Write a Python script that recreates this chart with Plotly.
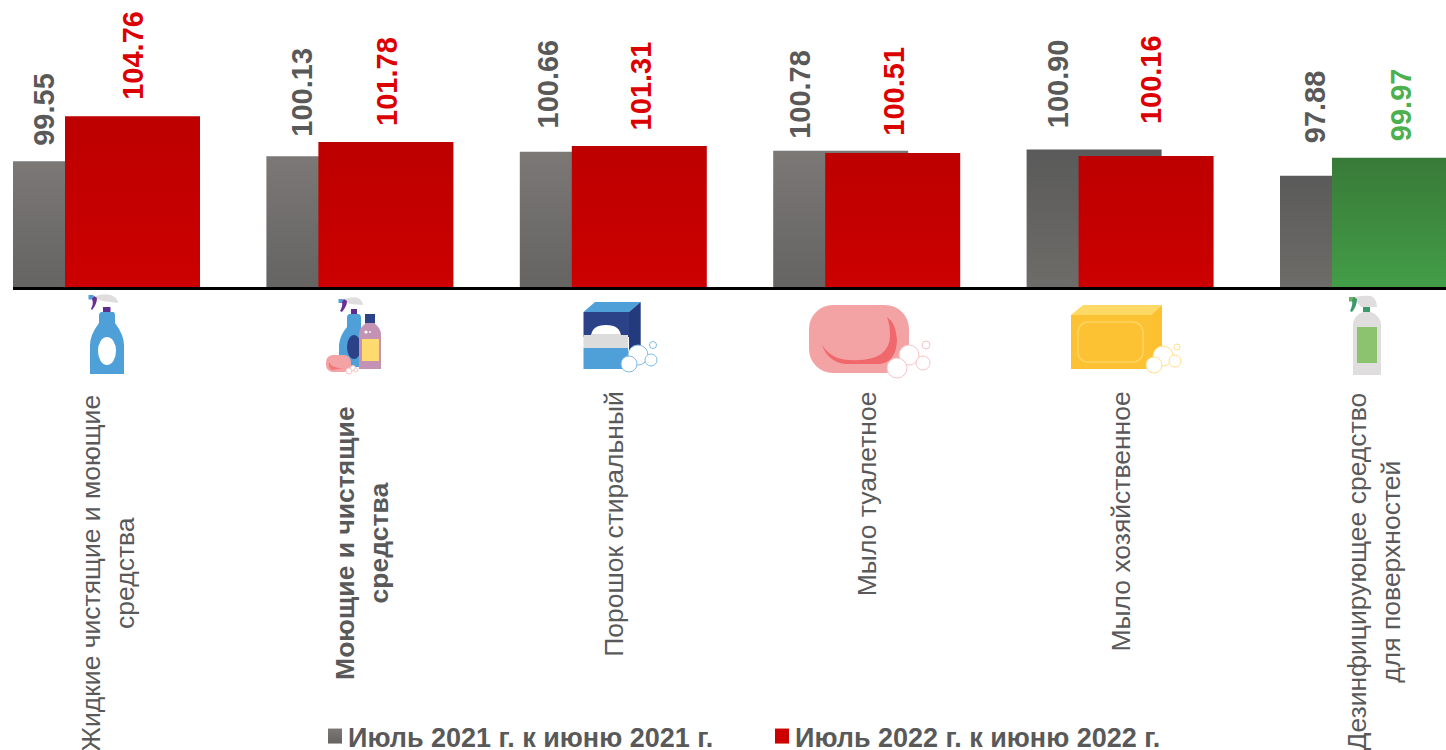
import base64
import plotly.graph_objects as go

categories = ["Жидкие чистящие и моющие<br>средства", "<b>Моющие и чистящие<br>средства</b>",
              "Порошок стиральный", "Мыло туалетное", "Мыло хозяйственное",
              "Дезинфицирующее средство<br>для поверхностей"]
values_2021 = [99.55, 100.13, 100.66, 100.78, 100.90, 97.88]
values_2022 = [104.76, 101.78, 101.31, 100.51, 100.16, 99.97]
series_names = ["Июль 2021 г. к июню 2021 г.", "Июль 2022 г. к июню 2022 г."]
label_2022_colors = ["#dd0000"] * 5 + ["#4cb04f"]
colors_2022 = ["#c40000"] * 5 + ["#3f8c41"]
colors_2021 = ["#706e6c"] * 4 + ["#636261"] * 2

W, H = 1446, 750
PL, PB = 13, 287          # plot left / plot bottom in page pixels
STEP, C0 = 253.4, 106.5   # category spacing and first-group centre in pixels
BAR = 135 / STEP
GRAY_OFF = -93.5 / STEP
RED_OFF = -41.5 / STEP
UNIT_PX = 8.64

# per-label nudges of the hand-placed chart labels (pixels)
gray_dx = [-62.5, -58, -65, -67, -62, -58.5]
gray_dy = [14, 19, 22, 11, 20, 31]
red_dx = [0, 0, 1, 1, 4, 1]
red_dy = [15, 15, 15, 16, 31, 15]
cat_cy = [573, 543, 524, 494, 522, 572]
cat_dx = [1, 2, 0.5, 0.5, 0.5, 0]


def svg(x0, y0, x1, y1, body):
    s = (f'<svg xmlns="http://www.w3.org/2000/svg" width="{(x1-x0)*3}" height="{(y1-y0)*3}" '
         f'viewBox="{x0} {y0} {x1-x0} {y1-y0}">{body}</svg>')
    uri = "data:image/svg+xml;base64," + base64.b64encode(s.encode()).decode()
    return dict(source=uri, xref="paper", yref="paper",
                x=(x0 - PL) / (W - PL), y=(PB - y0) / PB,
                sizex=(x1 - x0) / (W - PL), sizey=(y1 - y0) / PB,
                sizing="stretch", xanchor="left", yanchor="top", layer="above")


def bubbles(items, stroke):
    return "".join(f'<circle cx="{x}" cy="{y}" r="{r}" fill="#fff" stroke="{stroke}" stroke-width="1"/>'
                   for x, y, r in items)


icons = [
    svg(86, 292, 127, 376,
        '<path d="M93 297 Q103 293 111 295 Q118 298 118 303 L103 301 L100 300 Z" fill="#dfdddd"/>'
        '<rect x="88.5" y="295" width="5" height="4.5" fill="#4f9fd9"/>'
        '<path d="M94 296 L97 298 Q97 304 92 310 L91 309 Q94 303 92 299 Z" fill="#6a2f96"/>'
        '<rect x="103" y="307" width="7.5" height="5.5" fill="#5c2d91"/>'
        '<path d="M102 312 H113 Q115 312 115 316 V323 Q124 335 124 345 V374 H90 V345 Q90 335 99 323 V316 Q99 312 102 312 Z" fill="#4f9fd9"/>'
        '<ellipse cx="107" cy="351" rx="9" ry="14" fill="#fff"/>'),
    svg(324, 296, 384, 376,
        '<path d="M344 299 Q354 296 358 298 Q363 301 363 305 L350 304 L345 302 Z" fill="#dfdddd"/>'
        '<rect x="338.5" y="299" width="5" height="4" fill="#4f9fd9"/>'
        '<path d="M344 299 L347 301 Q347 306 342 312 L340 311 Q343 306 342 302 Z" fill="#6a2f96"/>'
        '<rect x="351" y="309" width="6" height="5" fill="#5c2d91"/>'
        '<path d="M350 314 H358 Q361 314 361 318 V367 H339 V345 Q340 335 347 327 V318 Q347 314 350 314 Z" fill="#4f9fd9"/>'
        '<ellipse cx="354" cy="347" rx="7" ry="12" fill="#2b4289"/>'
        '<path d="M365 314 H375 V324 Q381 328 381 335 V369 H359 V335 Q359 328 365 324 Z" fill="#c493b4"/>'
        '<rect x="365" y="314" width="10" height="9" fill="#2b4289"/>'
        '<rect x="362" y="339" width="17" height="22" fill="#fedb71"/>'
        '<circle cx="366" cy="332" r="1.6" fill="#fff"/><circle cx="370" cy="332" r="0.9" fill="#fff"/>'
        '<rect x="326" y="355" width="25" height="17" rx="7" fill="#f4a3a5"/>'
        '<path d="M329 362 Q332 369 345 368 L332 370 Q328 368 329 362 Z" fill="#f0787b"/>'
        + bubbles([(349, 371, 3), (353, 368, 2.5), (356, 370, 2)], "#f9c5c6")),
    svg(580, 300, 660, 374,
        '<path d="M583.5 312 L595 302 H640.7 L629 312 Z" fill="#4f9fd9"/>'
        '<rect x="583.5" y="312" width="45.5" height="25" fill="#2b4289"/>'
        '<path d="M629 312 L640.7 302 V345 L629 357 Z" fill="#233a7c"/>'
        '<path d="M591 336 Q592 325 606 325 Q620 325 621 336 Z" fill="#fff"/>'
        '<path d="M583.5 335 H591 V334 H621 V335 H628 V348 H583.5 Z" fill="#dddcdc"/>'
        '<rect x="583.5" y="348" width="44.5" height="21" fill="#4f9fd9"/>'
        + bubbles([(638, 355, 10), (653, 345, 3.5), (651, 360, 6), (629, 364, 8)], "#80bbe6")),
    svg(806, 302, 935, 380,
        '<rect x="809" y="305" width="100" height="68" rx="24" fill="#f4a3a5"/>'
        '<path d="M887 317 Q896 323 897 340 Q896 364 877 364 H845 Q828 362 822 345 Q832 360 850 360 Q890 362 890 335 Q890 325 887 317 Z" fill="#f0686b"/>'
        + bubbles([(909, 355, 10), (926, 345, 4), (923, 363, 7), (897, 368, 10)], "#f9c5c6")),
    svg(1068, 302, 1185, 376,
        '<path d="M1071 315 L1083 305 H1162 L1151 315 Z" fill="#ffd966"/>'
        '<path d="M1151 315 L1162 305 V357 L1151 369 Z" fill="#fdc02e"/>'
        '<rect x="1071" y="315" width="80" height="54" fill="#fdc233"/>'
        '<rect x="1078" y="322" width="65" height="40" rx="10" fill="none" stroke="#ffd460" stroke-width="1.5"/>'
        + bubbles([(1163, 356, 10), (1177, 347, 3), (1175, 361, 6), (1154, 365, 8)], "#ffe08a")),
    svg(1346, 294, 1384, 376,
        '<path d="M1355 297 Q1365 295 1371 296 Q1377 299 1377 307 H1361 L1356 301 Z" fill="#dfdddd"/>'
        '<rect x="1349" y="297" width="6" height="4.5" fill="#69b55f"/>'
        '<path d="M1354 297 L1357 299 Q1357 306 1352 312 L1350 311 Q1353 305 1352 300 Z" fill="#3a9a6a"/>'
        '<rect x="1363" y="307" width="7" height="5" fill="#3a9a6a"/>'
        '<path d="M1363 312 H1371 Q1381 316 1381 325 V375 H1353 V325 Q1353 316 1363 312 Z" fill="#dfdddd"/>'
        '<rect x="1357" y="327" width="20" height="36" fill="#8cc36e"/>'),
]

x_idx = list(range(len(categories)))
fig = go.Figure()
fig.add_bar(x=x_idx, y=values_2021, name=series_names[0], width=BAR, offset=GRAY_OFF,
            marker=dict(color=colors_2021, line_width=0))
fig.add_bar(x=x_idx, y=values_2022, name=series_names[1], width=BAR, offset=RED_OFF,
            marker=dict(color=colors_2022, line_width=0))

ann = []
LF = dict(family="Liberation Sans, Arial, sans-serif", size=29)
for i in x_idx:
    gx = i + (gray_dx[i]) / STEP
    ann.append(dict(x=gx, y=values_2021[i], xref="x", yref="y", text=f"<b>{values_2021[i]:.2f}</b>",
                    textangle=-90, showarrow=False, xanchor="center", yanchor="bottom",
                    yshift=gray_dy[i], font=dict(LF, color="#595959"), borderpad=0))
    ann.append(dict(x=i + (133 - C0 + red_dx[i]) / STEP, y=values_2022[i], xref="x", yref="y",
                    text=f"<b>{values_2022[i]:.2f}</b>", textangle=-90, showarrow=False,
                    xanchor="center", yanchor="bottom", yshift=red_dy[i],
                    font=dict(LF, color=label_2022_colors[i]), borderpad=0))
    ann.append(dict(x=i + cat_dx[i] / STEP, y=(PB - cat_cy[i]) / PB, xref="x", yref="paper",
                    text=categories[i], textangle=-90, showarrow=False, align="center",
                    xanchor="center", yanchor="middle",
                    font=dict(family="Liberation Sans, Arial, sans-serif", size=26.5, color="#595959"),
                    borderpad=0))

fig.update_layout(
    width=W, height=H, autosize=False,
    margin=dict(l=PL, r=0, t=0, b=H - PB, pad=0),
    paper_bgcolor="white", plot_bgcolor="white", barmode="overlay",
    showlegend=True,
    legend=dict(orientation="h", xref="container", yref="container", x=315 / W, xanchor="left",
                y=1 - 712 / H, yanchor="top", entrywidth=402, entrywidthmode="pixels",
                font=dict(family="Liberation Sans, Arial, sans-serif", size=27, color="#595959", weight="bold"),
                bgcolor="rgba(0,0,0,0)", traceorder="normal"),
    images=icons, annotations=ann,
)
fig.update_xaxes(range=[(PL - C0) / STEP, (W - C0) / STEP], showgrid=False, zeroline=False,
                 showline=True, linecolor="black", linewidth=3, ticks="", showticklabels=False, fixedrange=True)
fig.update_yaxes(range=[85, 85 + PB / UNIT_PX], visible=False, showgrid=False, zeroline=False, fixedrange=True)

post = """
document.body.style.margin='0';document.body.style.overflow='hidden';
var gd=document.querySelector('.js-plotly-plot');
var svgEl=gd.querySelector('svg.main-svg');
var NS='http://www.w3.org/2000/svg';
var defs=svgEl.querySelector('defs');
var n=0;
function grad(a,b,top){var id='barg'+(n++);var g=document.createElementNS(NS,'linearGradient');g.setAttribute('id',id);
 if(top===undefined){g.setAttribute('x1','0%');g.setAttribute('x2','0%');g.setAttribute('y1','0%');g.setAttribute('y2','100%');}
 else{g.setAttribute('gradientUnits','userSpaceOnUse');g.setAttribute('x1','0');g.setAttribute('x2','0');g.setAttribute('y1',top);g.setAttribute('y2','287');}
 [['0%',a],['100%',b]].forEach(function(s){var t=document.createElementNS(NS,'stop');t.setAttribute('offset',s[0]);t.setAttribute('stop-color',s[1]);g.appendChild(t);});
 defs.appendChild(g);return 'url(#'+id+')';}
var tr=gd.querySelectorAll('.barlayer .trace');
tr[0].querySelectorAll('.point path').forEach(function(p,i){var t=p.getBBox().y;
 p.style.fill=i<4?grad('#7b7876','#656463',t):grad('#5a5a5a','#6e6c68',t);});
tr[1].querySelectorAll('.point path').forEach(function(p,i){var t=p.getBBox().y;
 p.style.fill=i<5?grad('#bd0000','#cc0000',t):grad('#387a38','#439d47',t);});
var li=gd.querySelectorAll('.legend .traces');
li.forEach(function(t,i){
 var p=t.querySelector('.legendpoints path');
 if(p){p.setAttribute('d','M7,7.5H-7V-7.5H7Z');p.style.fill=i==0?grad('#7b7876','#656463'):'#cc0000';}
 var x=t.querySelector('.legendtext');if(x){x.setAttribute('x','33');}
});
"""
fig.write_html("out.html", post_script=post, config=dict(displayModeBar=False, responsive=False))
